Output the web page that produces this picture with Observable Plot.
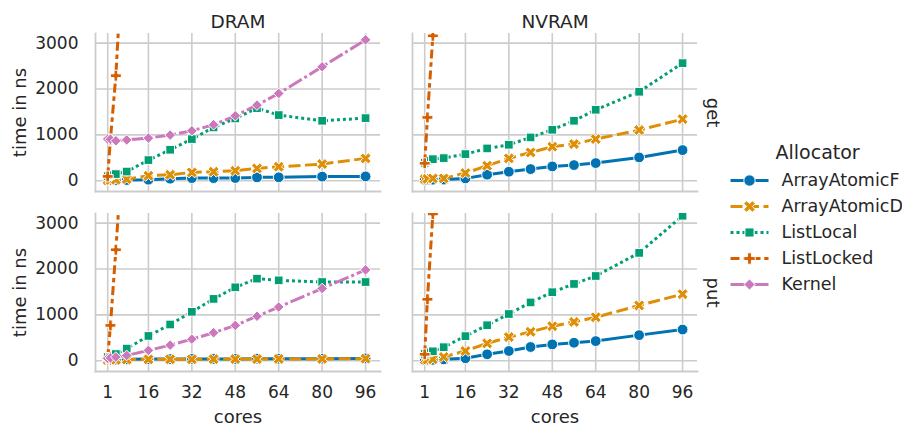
<!DOCTYPE html>
<html><head><meta charset="utf-8">
<script src="https://cdn.jsdelivr.net/npm/d3@7"></script>
<script src="https://cdn.jsdelivr.net/npm/@observablehq/plot@0.6"></script>
<style>
html,body{margin:0;padding:0;background:#fff;}
#wrap{position:relative;width:902px;height:429px;font-family:"DejaVu Sans",sans-serif;}
#legend{position:absolute;left:700px;top:130px;}
#chart{position:absolute;left:0;top:0;}
</style></head><body><div id="wrap"><div id="chart"></div><div id="legend"></div></div>
<script>
const cores = [1, 2, 4, 8, 16, 24, 32, 40, 48, 56, 64, 80, 96];
const memories = ["DRAM", "NVRAM"];
const operations = ["get", "put"];
const allocators = ["ArrayAtomicF", "ArrayAtomicD", "ListLocal", "ListLocked", "Kernel"];
const colors = ["#0173b2", "#de8f05", "#029e73", "#d55e00", "#cc78bc"];
const xTicks = [1, 16, 32, 48, 64, 80, 96];
const yTicks = [0, 1000, 2000, 3000];

// DRAM / get
const dramGetArrayAtomicF = [10, 10, 15, 15, 22, 44, 58, 58, 60, 73, 75, 90, 94];
const dramGetArrayAtomicD = [10, 15, 20, 35, 109, 130, 181, 196, 218, 269, 305, 363, 487];
const dramGetListLocal = [100, 120, 145, 200, 450, 675, 908, 1162, 1358, 1583, 1431, 1307, 1365];
const dramGetListLocked = [94, 900, 2290, 6600];
const dramGetKernel = [908, 905, 871, 890, 930, 995, 1089, 1220, 1416, 1648, 1903, 2484, 3072];
// NVRAM / get
const nvramGetArrayAtomicF = [22, 22, 22, 25, 51, 131, 196, 254, 312, 341, 385, 508, 668];
const nvramGetArrayAtomicD = [36, 40, 50, 50, 167, 327, 487, 617, 741, 799, 908, 1104, 1343];
const nvramGetListLocal = [390, 430, 470, 493, 580, 704, 784, 944, 1111, 1307, 1547, 1939, 2564];
const nvramGetListLocked = [380, 1380, 3160, 7000];
const nvramGetKernel = [];
// DRAM / put
const dramPutArrayAtomicF = [20, 20, 25, 30, 35, 35, 40, 40, 40, 45, 45, 45, 50];
const dramPutArrayAtomicD = [15, 15, 20, 25, 30, 30, 30, 35, 35, 35, 40, 40, 45];
const dramPutListLocal = [80, 110, 145, 265, 540, 790, 1066, 1348, 1600, 1790, 1752, 1716, 1716];
const dramPutListLocked = [60, 770, 2420, 5900];
const dramPutKernel = [50, 60, 80, 115, 225, 340, 470, 610, 770, 970, 1170, 1575, 1980];
// NVRAM / put
const nvramPutArrayAtomicF = [10, 15, 20, 30, 54, 140, 212, 299, 356, 392, 428, 558, 680];
const nvramPutArrayAtomicD = [20, 25, 30, 83, 212, 378, 515, 630, 752, 846, 947, 1206, 1451];
const nvramPutListLocal = [150, 180, 205, 295, 536, 774, 1019, 1271, 1494, 1674, 1847, 2351, 3160];
const nvramPutListLocked = [140, 1340, 3200, 7000];
const nvramPutKernel = [];

const panels = [
  ["DRAM", "get", [dramGetArrayAtomicF, dramGetArrayAtomicD, dramGetListLocal, dramGetListLocked, dramGetKernel]],
  ["NVRAM", "get", [nvramGetArrayAtomicF, nvramGetArrayAtomicD, nvramGetListLocal, nvramGetListLocked, nvramGetKernel]],
  ["DRAM", "put", [dramPutArrayAtomicF, dramPutArrayAtomicD, dramPutListLocal, dramPutListLocked, dramPutKernel]],
  ["NVRAM", "put", [nvramPutArrayAtomicF, nvramPutArrayAtomicD, nvramPutListLocal, nvramPutListLocked, nvramPutKernel]]
];
const rows = [];
for (const [mem, op, series] of panels) {
  series.forEach((vals, k) => vals.forEach((v, i) => {
    rows.push({mem, op, alloc: allocators[k], cores: cores[i], time: v});
  }));
}

// filled "X" marker (cross rotated 45deg)
const symbolX = {
  draw(ctx, size) {
    const r = Math.sqrt(size / 5) / 2;
    const pts = [[-3*r,-r],[-r,-r],[-r,-3*r],[r,-3*r],[r,-r],[3*r,-r],[3*r,r],[r,r],[r,3*r],[-r,3*r],[-r,r],[-3*r,r]];
    const s = Math.SQRT1_2;
    pts.forEach(([x, y], i) => {
      const X = (x - y) * s, Y = (x + y) * s;
      if (i === 0) ctx.moveTo(X, Y); else ctx.lineTo(X, Y);
    });
    ctx.closePath();
  }
};
const symbols = [d3.symbolCircle, symbolX, d3.symbolSquare, d3.symbolCross, d3.symbolDiamond2];
const radii = [5.4, 4.9, 4.9, 4.6, 4.8];
const dashes = ["none", "12,4.5", "3,3", "9,3.75,4.5,3.75", "15,3,3,3"];
const LW = 3;
const textColor = "#262626";
const gridColor = "#cccccc";

const seriesMarks = allocators.flatMap((a, k) => {
  const d = rows.filter(r => r.alloc === a);
  return [
    Plot.lineY(d, {x: "cores", y: "time", fx: "mem", fy: "op", stroke: "alloc", strokeWidth: LW,
      strokeDasharray: dashes[k], strokeLinecap: "butt", strokeLinejoin: "round", clip: true}),
    Plot.dot(d, {x: "cores", y: "time", fx: "mem", fy: "op", fill: "alloc", stroke: "white", strokeWidth: 1,
      r: radii[k], symbol: symbols[k], clip: true})
  ];
});

const chart = Plot.plot({
  width: 902, height: 429,
  marginLeft: 95, marginRight: 205, marginTop: 32, marginBottom: 57,
  facet: {marginTop: 0, marginRight: 0, marginBottom: 0, marginLeft: 0},
  style: {fontFamily: "DejaVu Sans", color: textColor, background: "white", overflow: "visible"},
  x: {domain: [-3.5, 101.5], axis: null},
  y: {domain: [-235, 3210], axis: null},
  fx: {domain: memories, paddingInner: 0.101, paddingOuter: 0, axis: null},
  fy: {domain: operations, paddingInner: 0.1215, paddingOuter: 0, axis: null},
  color: {domain: allocators, range: colors},
  marks: [
    Plot.gridX({ticks: xTicks, stroke: gridColor, strokeOpacity: 1, strokeWidth: 1.6}),
    Plot.gridY({ticks: yTicks, stroke: gridColor, strokeOpacity: 1, strokeWidth: 1.6}),
    Plot.frame({anchor: "left", stroke: gridColor, strokeOpacity: 1, strokeWidth: 1.8}),
    Plot.frame({anchor: "bottom", stroke: gridColor, strokeOpacity: 1, strokeWidth: 1.8}),
    Plot.axisX({ticks: xTicks, tickFormat: d => String(d), tickSize: 0, tickPadding: 14, fontSize: 17, label: null}),
    Plot.axisY({ticks: yTicks, tickFormat: d => String(d), tickSize: 0, tickPadding: 17, fontSize: 17, label: null}),
    Plot.axisFx({anchor: "top", tickSize: 0, tickPadding: 6, fontSize: 18.5, label: null}),
    Plot.text(operations, {fy: d => d, fx: () => "DRAM", text: () => "time in ns", frameAnchor: "left",
      rotate: -90, dx: -75, fontSize: 18, textAnchor: "middle", lineAnchor: "middle", fill: textColor}),
    Plot.text(operations, {fy: d => d, fx: () => "NVRAM", text: d => d, frameAnchor: "right",
      rotate: 90, dx: 15, fontSize: 18, textAnchor: "middle", lineAnchor: "middle", fill: textColor}),
    Plot.text(memories, {fx: d => d, fy: () => "put", text: () => "cores", frameAnchor: "bottom",
      dy: 46, fontSize: 18, textAnchor: "middle", lineAnchor: "middle", fill: textColor}),
    ...seriesMarks
  ]
});
document.getElementById("chart").append(chart);

// Legend
const legendRows = allocators.flatMap(a => [{a, x: 0}, {a, x: 1}]);
const legendMarks = allocators.flatMap((a, k) => {
  const d = legendRows.filter(r => r.a === a);
  return [
    Plot.line(d, {x: "x", y: "a", stroke: "a", strokeWidth: LW, strokeDasharray: dashes[k], strokeLinecap: "butt"}),
    Plot.dot([a], {x: () => 0.5, y: d => d, fill: d => d, stroke: "white", strokeWidth: 1, r: radii[k] * 1.05, symbol: symbols[k]})
  ];
});
const legend = Plot.plot({
  width: 202, height: 170, margin: 0,
  style: {fontFamily: "DejaVu Sans", color: textColor, background: "transparent", overflow: "visible"},
  x: {domain: [0, 1], range: [30, 68], axis: null},
  y: {type: "point", domain: allocators, range: [50, 154], padding: 0, axis: null},
  color: {domain: allocators, range: colors},
  marks: [
    ...legendMarks,
    Plot.text(allocators, {x: () => 1, y: d => d, text: d => d, dx: 13, textAnchor: "start", fontSize: 17.5, fill: textColor}),
    Plot.text(["Allocator"], {frameAnchor: "top-left", dx: 75, dy: 15, text: d => d, textAnchor: "start", lineAnchor: "top", fontSize: 19, fill: textColor})
  ]
});
document.getElementById("legend").append(legend);
</script></body></html>
